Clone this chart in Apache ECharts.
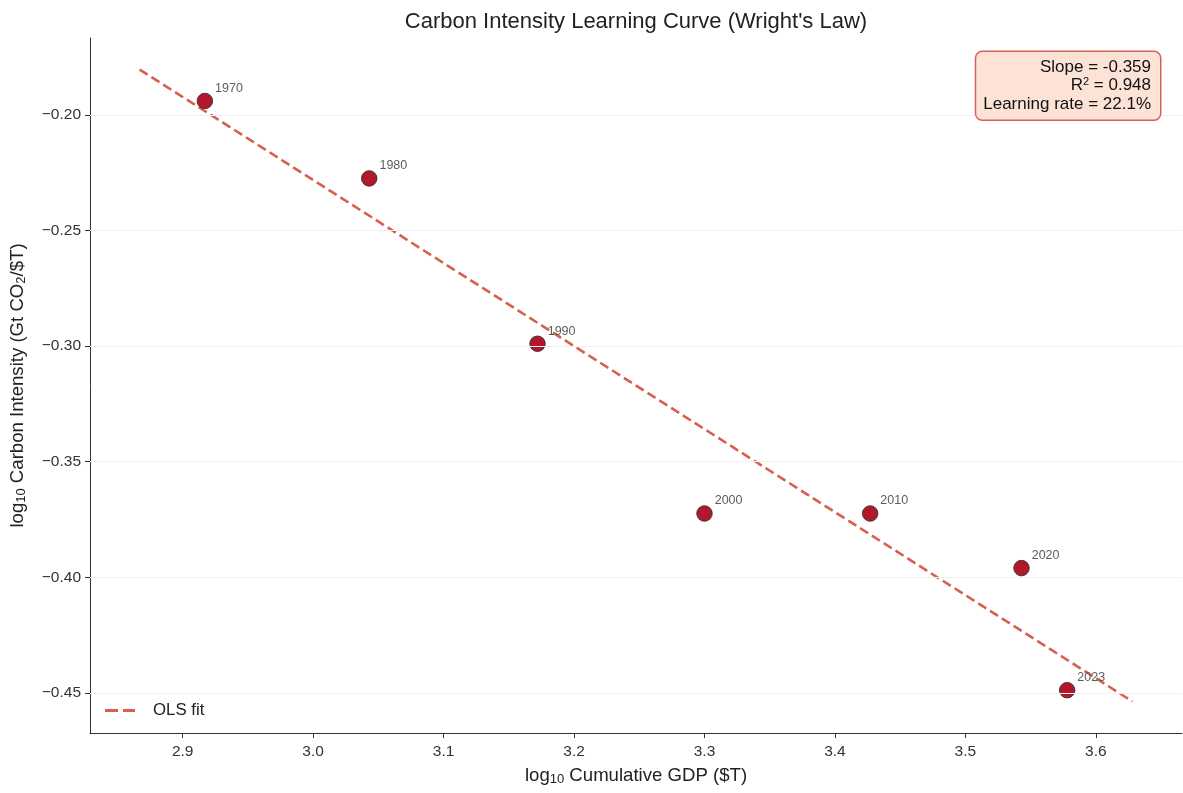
<!DOCTYPE html>
<html>
<head>
<meta charset="utf-8">
<title>Carbon Intensity Learning Curve</title>
<script src="https://cdn.jsdelivr.net/npm/echarts@6/dist/echarts.min.js"></script>
<style>
  html, body { margin: 0; padding: 0; background: #ffffff; }
  #chart { width: 1183px; height: 793px; }
</style>
</head>
<body>
<div id="chart"></div>
<script>
// Decade observations: log10 cumulative GDP vs log10 carbon intensity
const years = ['1970', '1980', '1990', '2000', '2010', '2020', '2023'];
const logCumGdp = [2.917, 3.043, 3.172, 3.300, 3.427, 3.543, 3.578];
const logIntensity = [-0.194, -0.2275, -0.299, -0.3724, -0.3724, -0.396, -0.4488];

// Regression summary
const fitSlope = -0.359;
const fitIntercept = 0.8488;
const rSquared = '0.948';
const learningRate = '22.1%';

// Tick labels
const xTicks = [2.9, 3.0, 3.1, 3.2, 3.3, 3.4, 3.5, 3.6];
const yTicks = [-0.45, -0.40, -0.35, -0.30, -0.25, -0.20];

const FONT = '"Liberation Sans", Arial, Helvetica, sans-serif';
const INK = '#222222';

// Fit line spans the data range padded by 0.05 on each side
const fitX0 = Math.min(...logCumGdp) - 0.05;
const fitX1 = Math.max(...logCumGdp) + 0.05;
const fitLine = [
  [fitX0, fitIntercept + fitSlope * fitX0],
  [fitX1, fitIntercept + fitSlope * fitX1]
];

// Axis limits: 5% margin around everything drawn
function padded(values) {
  const lo = Math.min(...values), hi = Math.max(...values);
  const m = (hi - lo) * 0.05;
  return [lo - m, hi + m];
}
const xLim = padded(logCumGdp.concat(fitLine.map(p => p[0])));
const yLim = padded(logIntensity.concat(fitLine.map(p => p[1])));

const minus = s => s.replace('-', '\u2212');

const nameRich = {
  b: { fontFamily: FONT, fontSize: 18.6, color: INK },
  s: { fontFamily: FONT, fontSize: 13, color: INK, verticalAlign: 'bottom', padding: [7, 0, 0, 0] }
};

// Legend key: two dashes of the fit line
const dashIcon = 'path://M0,0H13V3H0Z M18,0H30V3H18Z';

const chart = echarts.init(document.getElementById('chart'), null, { renderer: 'canvas' });

chart.setOption({
  animation: false,
  backgroundColor: '#ffffff',
  grid: { left: 90, right: 1, top: 38, bottom: 60, outerBoundsMode: 'none' },
  graphic: [
    {
      type: 'text',
      x: 636, y: 22,
      style: {
        text: "Carbon Intensity Learning Curve (Wright's Law)",
        font: '22px ' + FONT,
        fill: INK,
        align: 'center',
        verticalAlign: 'middle'
      }
    },
    {
      type: 'text',
      x: 1160, y: 52,
      z: 100,
      style: {
        text: '{t|Slope = ' + fitSlope.toFixed(3) + '}\n{t|R}{sup|2}{t| = ' + rSquared + '}\n{t|Learning rate = ' + learningRate + '}',
        align: 'right',
        verticalAlign: 'top',
        backgroundColor: '#fde2d6',
        borderColor: '#d6605a',
        borderWidth: 1.5,
        borderRadius: 6,
        padding: [6, 9, 6, 7],
        rich: {
          t: { fontFamily: FONT, fontSize: 17, fill: '#111111', lineHeight: 18.5, align: 'right' },
          sup: { fontFamily: FONT, fontSize: 11, fill: '#111111', lineHeight: 18.5, align: 'right', verticalAlign: 'top', padding: [0, 0, 6, 0] }
        }
      }
    }
  ],
  legend: {
    data: [{ name: 'OLS fit', icon: dashIcon }],
    left: 105,
    top: 702,
    padding: 0,
    itemWidth: 30,
    itemHeight: 3,
    itemStyle: { color: '#d6604d', opacity: 1 },
    textStyle: { fontFamily: FONT, fontSize: 16.8, color: INK, padding: [0, 0, 0, 13] }
  },
  xAxis: {
    type: 'value',
    min: xLim[0],
    max: xLim[1],
    name: '{b|log}{s|10}{b| Cumulative GDP ($T)}',
    nameLocation: 'middle',
    nameGap: 33,
    nameTextStyle: { rich: nameRich },
    axisLine: { show: true, onZero: false, lineStyle: { color: '#333333', width: 1 } },
    axisTick: { show: true, length: 5, customValues: xTicks, lineStyle: { color: '#333333', width: 1 } },
    axisLabel: {
      customValues: xTicks,
      margin: 11,
      fontFamily: FONT, fontSize: 15.5, color: '#333333',
      formatter: v => v.toFixed(1)
    },
    splitLine: { show: false }
  },
  yAxis: {
    type: 'value',
    min: yLim[0],
    max: yLim[1],
    name: '{b|log}{s|10}{b| Carbon Intensity (Gt CO}{s|2}{b|/$T)}',
    nameLocation: 'middle',
    nameRotate: 90,
    nameGap: 62,
    nameTextStyle: { rich: nameRich },
    axisLine: { show: true, onZero: false, lineStyle: { color: '#333333', width: 1 } },
    axisTick: { show: true, length: 5, customValues: yTicks, lineStyle: { color: '#333333', width: 1 } },
    axisLabel: {
      customValues: yTicks,
      margin: 9,
      fontFamily: FONT, fontSize: 15.5, color: '#333333',
      formatter: v => minus(v.toFixed(2))
    },
    splitLine: { show: false }
  },
  series: [
    {
      // horizontal reference lines at each y tick
      name: 'gridlines',
      type: 'line',
      data: [],
      silent: true,
      z: 0,
      markLine: {
        silent: true,
        symbol: ['none', 'none'],
        label: { show: false },
        lineStyle: { color: '#f0f0f0', width: 1, type: 'solid' },
        emphasis: { disabled: true },
        data: yTicks.map(v => ({ yAxis: v }))
      }
    },
    {
      name: 'OLS fit',
      type: 'line',
      data: fitLine,
      symbol: 'none',
      z: 2,
      lineStyle: { color: '#d6604d', width: 2.6, type: [9.5, 4.5] },
      itemStyle: { color: '#d6604d' }
    },
    {
      name: 'Observed',
      type: 'scatter',
      z: 3,
      symbolSize: 15.5,
      data: years.map((y, i) => ({ name: y, value: [logCumGdp[i], logIntensity[i]] })),
      itemStyle: { color: '#b2182b', opacity: 1, borderColor: '#333333', borderWidth: 0.9 },
      label: {
        show: true,
        position: 'right',
        distance: 2,
        offset: [0, -12.5],
        formatter: p => p.name,
        fontFamily: FONT,
        fontSize: 12.5,
        color: '#5c5c5c'
      },
      emphasis: { disabled: true }
    }
  ]
});
</script>
</body>
</html>
